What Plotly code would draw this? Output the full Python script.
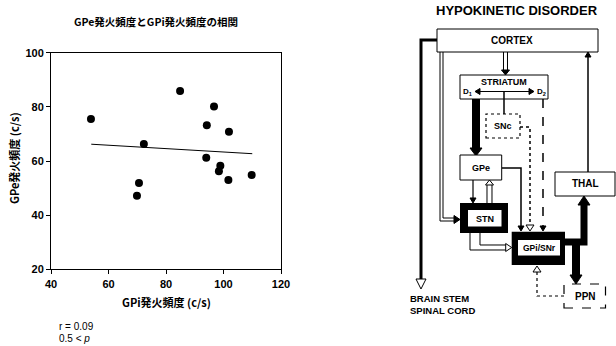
import plotly.graph_objects as go

W, H = 616, 346

# ---- data ----
gpi_rate = [53.9, 84.9, 96.7, 94.2, 101.9, 72.3, 94.0, 98.9, 98.4, 101.7, 109.8, 70.6, 69.9]
gpe_rate = [75.5, 85.9, 80.1, 73.2, 70.8, 66.3, 61.2, 58.2, 56.2, 53.0, 54.8, 51.9, 47.2]
fit_x = [54, 110]
fit_y = [66.2, 62.7]
x_ticks = [40, 60, 80, 100, 120]
y_ticks = [20, 40, 60, 80, 100]

JP = "Noto Sans CJK JP"
LAT = "Liberation Sans"


def px(x):
    return x / W


def py(y):
    return 1 - y / H


fig = go.Figure()
fig.add_trace(go.Scatter(x=fit_x, y=fit_y, mode="lines",
                         line=dict(color="black", width=1), hoverinfo="skip"))
fig.add_trace(go.Scatter(x=gpi_rate, y=gpe_rate, mode="markers",
                         marker=dict(color="black", size=8)))

axis_common = dict(ticks="outside", ticklen=4, tickcolor="black", tickwidth=1,
                   showline=True, linecolor="black", linewidth=1, mirror=True,
                   showgrid=False, zeroline=False, automargin=False,
                   tickfont=dict(family=LAT, size=11, color="black", weight="bold"))

fig.update_layout(
    width=W, height=H, margin=dict(l=0, r=0, t=0, b=0),
    paper_bgcolor="white", plot_bgcolor="white", showlegend=False,
    xaxis=dict(domain=[51 / W, 281 / W], range=[40, 120], tickvals=x_ticks, **axis_common),
    yaxis=dict(domain=[py(269.3), py(52.7)], range=[20, 100], tickvals=y_ticks, **axis_common),
)

shapes = []
annots = []


def text(x, y, s, size=8, bold=True, family=LAT, xanchor="center", angle=0):
    annots.append(dict(x=px(x), y=py(y), xref="paper", yref="paper", text=(f"<b>{s}</b>" if bold else s),
                       showarrow=False, xanchor=xanchor, yanchor="middle", textangle=angle,
                       font=dict(family=family, size=size, color="black")))


def path(points, width=1, dash="solid", color="black"):
    d = "M " + " L ".join(f"{px(x):.5f},{py(y):.5f}" for x, y in points)
    shapes.append(dict(type="path", path=d, xref="paper", yref="paper",
                       line=dict(color=color, width=width, dash=dash)))


def rect(x0, y0, x1, y1, fill="white", lw=1, dash="solid", lc="black"):
    shapes.append(dict(type="rect", x0=px(x0), x1=px(x1), y0=py(y1), y1=py(y0),
                       xref="paper", yref="paper", fillcolor=fill,
                       line=dict(color=lc, width=lw, dash=dash)))


def tri(tx, ty, direction, length=7, half=4, filled=True):
    if direction == "down":
        pts = [(tx, ty), (tx - half, ty - length), (tx + half, ty - length)]
    elif direction == "up":
        pts = [(tx, ty), (tx - half, ty + length), (tx + half, ty + length)]
    elif direction == "right":
        pts = [(tx, ty), (tx - length, ty - half), (tx - length, ty + half)]
    else:
        pts = [(tx, ty), (tx + length, ty - half), (tx + length, ty + half)]
    d = "M " + " L ".join(f"{px(x):.5f},{py(y):.5f}" for x, y in pts) + " Z"
    shapes.append(dict(type="path", path=d, xref="paper", yref="paper",
                       fillcolor="black" if filled else "white",
                       line=dict(color="black", width=1)))


# ---- left chart texts ----
text(156, 21, "GPe発火頻度とGPi発火頻度の相関", size=10.5, family=JP)
text(166, 302, "GPi発火頻度 (c/s)", size=11, family=JP)
text(14, 158, "GPe発火頻度 (c/s)", size=11, family=JP, angle=-90)
text(57, 326, "r = 0.09", size=10, bold=False, xanchor="left")
text(57, 338, "0.5 &lt; <i>p</i>", size=10, bold=False, xanchor="left")

# ---- diagram ----
text(516.5, 11, "HYPOKINETIC DISORDER", size=13)

# connections drawn first
# cortex -> brain stem (thick)
path([(437, 40), (421, 40), (421, 279)], width=3)
tri(421, 289, "down", length=10, half=5, filled=False)
# cortex -> STN (double thin)
path([(440, 52), (440, 221), (455, 221)], width=1)
path([(443, 52), (443, 218), (455, 218)], width=1)
tri(460, 219.5, "right", length=6, half=4)
# cortex -> striatum
path([(503.5, 52), (503.5, 71)], width=1)
path([(507.5, 52), (507.5, 71)], width=1)
tri(505.5, 75, "down", length=5, half=4)
# thal -> cortex
path([(588, 172), (588, 57)], width=1.5)
tri(588, 52, "up", length=5, half=3)
# striatum -> GPe thick
rect(472, 99, 480, 149, fill="black", lw=0)
tri(476, 156, "down", length=8, half=6)
# SNc -> GPi (dotted)
path([(520, 127), (530, 127), (530, 225)], width=1.5, dash="dot")
tri(530, 231, "down", length=6, half=4, filled=False)
# striatum -> GPi (dashed)
path([(543, 99), (543, 226)], width=1.5, dash="dash")
tri(543, 231, "down", length=5, half=3)
# GPe -> GPi
path([(501.7, 168), (521, 168), (521, 226)], width=1.5)
tri(521, 231, "down", length=5, half=3)
# GPe -> STN
path([(473, 180), (473, 198)], width=1.2)
tri(473, 203, "down", length=5, half=3)
# STN -> GPe
path([(487, 203), (487, 185)], width=1)
path([(492, 203), (492, 185)], width=1)
tri(489.5, 180, "up", length=5, half=4, filled=False)
# STN -> GPi
path([(470, 233), (470, 250), (507, 250)], width=1)
path([(480, 233), (480, 245), (507, 245)], width=1)
tri(511.7, 247.5, "right", length=6, half=4, filled=False)
# GPi -> THAL thick
path([(565, 242), (584, 242), (584, 204)], width=7)
tri(584, 196, "up", length=9, half=6)
# GPi -> PPN thick
rect(572, 244, 580, 276, fill="black", lw=0)
tri(576, 284, "down", length=9, half=6)
# PPN -> GPi dotted
path([(564, 296), (537, 296), (537, 272)], width=1.2, dash="dot")
tri(537, 266, "up", length=6, half=4, filled=False)

# boxes
rect(437, 29, 598, 52)
text(512, 40.5, "CORTEX", size=10)
rect(460, 75, 548, 99)
text(504, 81.5, "STRIATUM", size=9)
text(467, 92, "D<sub>1</sub>", size=8)
text(541, 92, "D<sub>2</sub>", size=8)
# D1 <-> D2 and striatum -> SNc (on top of the striatum box)
path([(479, 91.5), (530, 91.5)], width=1.2)
tri(475, 91.5, "left", length=5, half=3)
tri(534, 91.5, "right", length=5, half=3)
path([(504, 91.5), (504, 114)], width=1.5)
rect(486, 114, 520, 138, lw=1.2, dash="dot")
text(503, 126, "SNc", size=9)
rect(460, 155, 501.7, 180)
text(481, 167.5, "GPe", size=9)
rect(460, 203, 508, 233, fill="black", lw=0)
rect(468, 210, 501.5, 226.5, fill="white", lw=0)
text(484.5, 218.5, "STN", size=9)
rect(511.7, 231.7, 565, 265, fill="black", lw=0)
rect(518, 240, 560, 255.5, fill="white", lw=0)
text(539, 248, "GPi/SNr", size=8.5)
rect(555, 172, 615, 196)
text(585, 184, "THAL", size=10)
rect(564, 284, 605.5, 308, lw=1.2, dash="dash")
text(585, 296, "PPN", size=10)
text(408, 298, "BRAIN STEM", size=9.5, xanchor="left")
text(408, 310.5, "SPINAL CORD", size=9.5, xanchor="left")

fig.update_layout(shapes=shapes, annotations=annots)
fig.write_html("out.html")
